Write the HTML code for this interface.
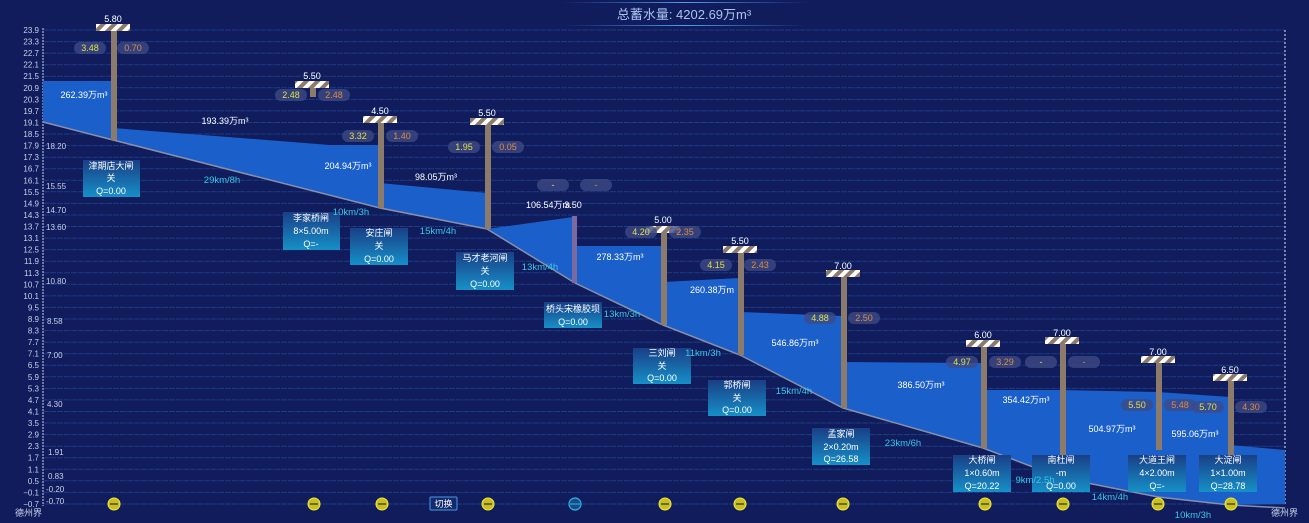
<!DOCTYPE html>
<html><head><meta charset="utf-8"><style>
html,body{margin:0;padding:0;background:#101c5c;}
svg{display:block;font-family:"Liberation Sans","Noto Sans CJK SC",sans-serif;}
.t{font-size:9px;fill:#c8d2e8;}
.yl{font-size:8px;fill:#c8d2e8;text-anchor:end;}
.yr{font-size:8px;fill:#c8d2e8;}
.v{font-size:9px;fill:#ffffff;text-anchor:middle;}
.d{font-size:9.5px;fill:#35c8e8;text-anchor:middle;}
.g{font-size:9px;fill:#ffffff;text-anchor:middle;}
.py{font-size:9px;fill:#e0e040;text-anchor:middle;}
.po{font-size:9px;fill:#e08a3a;text-anchor:middle;}
.b{font-size:9px;fill:#ffffff;text-anchor:middle;}
</style></head><body>
<svg width="1309" height="523" viewBox="0 0 1309 523" xmlns="http://www.w3.org/2000/svg">
<defs>
<pattern id="h" width="8" height="8" patternUnits="userSpaceOnUse" patternTransform="rotate(45)">
<rect width="8" height="8" fill="#ffffff"/><rect width="4" height="8" fill="#8c7a6b"/>
</pattern>
<linearGradient id="bx" x1="0" y1="0" x2="0" y2="1"><stop offset="0" stop-color="#1a3f86"/><stop offset="1" stop-color="#1690c8"/></linearGradient>
<linearGradient id="tl" x1="0" y1="0" x2="1" y2="0"><stop offset="0" stop-color="#3a8ae0" stop-opacity="0"/><stop offset="0.5" stop-color="#4aa0f0"/><stop offset="1" stop-color="#3a8ae0" stop-opacity="0"/></linearGradient>
</defs>
<rect width="1309" height="523" fill="#101c5c"/>
<!-- title -->
<rect x="560" y="2" width="250" height="1" fill="url(#tl)"/>
<rect x="560" y="25" width="250" height="1" fill="url(#tl)"/>
<text x="684" y="19" font-size="13" fill="#a8c4ee" text-anchor="middle">总蓄水量: 4202.69万m³</text>
<!-- grid -->
<g stroke="#1d3d86" stroke-width="1" stroke-dasharray="6,1">
<line x1="43" x2="1285" y1="30" y2="30"/><line x1="43" x2="1285" y1="41.6" y2="41.6"/><line x1="43" x2="1285" y1="53.1" y2="53.1"/><line x1="43" x2="1285" y1="64.7" y2="64.7"/><line x1="43" x2="1285" y1="76.2" y2="76.2"/><line x1="43" x2="1285" y1="87.8" y2="87.8"/><line x1="43" x2="1285" y1="99.4" y2="99.4"/><line x1="43" x2="1285" y1="110.9" y2="110.9"/><line x1="43" x2="1285" y1="122.5" y2="122.5"/><line x1="43" x2="1285" y1="134" y2="134"/><line x1="43" x2="1285" y1="145.6" y2="145.6"/><line x1="43" x2="1285" y1="157.2" y2="157.2"/><line x1="43" x2="1285" y1="168.7" y2="168.7"/><line x1="43" x2="1285" y1="180.3" y2="180.3"/><line x1="43" x2="1285" y1="191.8" y2="191.8"/><line x1="43" x2="1285" y1="203.4" y2="203.4"/><line x1="43" x2="1285" y1="215" y2="215"/><line x1="43" x2="1285" y1="226.5" y2="226.5"/><line x1="43" x2="1285" y1="238.1" y2="238.1"/><line x1="43" x2="1285" y1="249.6" y2="249.6"/><line x1="43" x2="1285" y1="261.2" y2="261.2"/><line x1="43" x2="1285" y1="272.8" y2="272.8"/><line x1="43" x2="1285" y1="284.3" y2="284.3"/><line x1="43" x2="1285" y1="295.9" y2="295.9"/><line x1="43" x2="1285" y1="307.4" y2="307.4"/><line x1="43" x2="1285" y1="319" y2="319"/><line x1="43" x2="1285" y1="330.6" y2="330.6"/><line x1="43" x2="1285" y1="342.1" y2="342.1"/><line x1="43" x2="1285" y1="353.7" y2="353.7"/><line x1="43" x2="1285" y1="365.2" y2="365.2"/><line x1="43" x2="1285" y1="376.8" y2="376.8"/><line x1="43" x2="1285" y1="388.4" y2="388.4"/><line x1="43" x2="1285" y1="399.9" y2="399.9"/><line x1="43" x2="1285" y1="411.5" y2="411.5"/><line x1="43" x2="1285" y1="423" y2="423"/><line x1="43" x2="1285" y1="434.6" y2="434.6"/><line x1="43" x2="1285" y1="446.2" y2="446.2"/><line x1="43" x2="1285" y1="457.7" y2="457.7"/><line x1="43" x2="1285" y1="469.3" y2="469.3"/><line x1="43" x2="1285" y1="480.8" y2="480.8"/><line x1="43" x2="1285" y1="492.4" y2="492.4"/><line x1="43" x2="1285" y1="504" y2="504"/>
</g>
<line x1="43" x2="43" y1="28" y2="506" stroke="#c8d2e8" stroke-dasharray="2,1"/>
<line x1="1285" x2="1285" y1="30" y2="506" stroke="#e0e8f8" stroke-dasharray="2,2"/>
<!-- y labels -->
<g class="yl">
<text x="39" y="33">23.9</text><text x="39" y="44.6">23.3</text><text x="39" y="56.1">22.7</text><text x="39" y="67.7">22.1</text><text x="39" y="79.2">21.5</text><text x="39" y="90.8">20.9</text><text x="39" y="102.4">20.3</text><text x="39" y="113.9">19.7</text><text x="39" y="125.5">19.1</text><text x="39" y="137">18.5</text><text x="39" y="148.6">17.9</text><text x="39" y="160.2">17.3</text><text x="39" y="171.7">16.7</text><text x="39" y="183.3">16.1</text><text x="39" y="194.8">15.5</text><text x="39" y="206.4">14.9</text><text x="39" y="218">14.3</text><text x="39" y="229.5">13.7</text><text x="39" y="241.1">13.1</text><text x="39" y="252.6">12.5</text><text x="39" y="264.2">11.9</text><text x="39" y="275.8">11.3</text><text x="39" y="287.3">10.7</text><text x="39" y="298.9">10.1</text><text x="39" y="310.4">9.5</text><text x="39" y="322">8.9</text><text x="39" y="333.6">8.3</text><text x="39" y="345.1">7.7</text><text x="39" y="356.7">7.1</text><text x="39" y="368.2">6.5</text><text x="39" y="379.8">5.9</text><text x="39" y="391.4">5.3</text><text x="39" y="402.9">4.7</text><text x="39" y="414.5">4.1</text><text x="39" y="426">3.5</text><text x="39" y="437.6">2.9</text><text x="39" y="449.2">2.3</text><text x="39" y="460.7">1.7</text><text x="39" y="472.3">1.1</text><text x="39" y="483.8">0.5</text><text x="39" y="495.4">−0.1</text><text x="39" y="507">−0.7</text>
</g>
<g class="yr">
<text x="46" y="149">18.20</text><text x="46" y="189">15.55</text><text x="46" y="213">14.70</text><text x="46" y="230">13.60</text><text x="46" y="284">10.80</text><text x="47" y="324">8.58</text><text x="47" y="358">7.00</text><text x="47" y="407">4.30</text><text x="48" y="455">1.91</text><text x="48" y="479">0.83</text><text x="46" y="492">-0.20</text><text x="46" y="504">-0.70</text>
</g>
<text x="15" y="516" class="t" font-size="8">德州界</text>
<text x="1271" y="516" class="t" font-size="8">德州界</text>
<!-- water -->
<g fill="#1b5fcb">
<polygon points="43,81 113,81 113,140 43,122"/>
<polygon points="113,128 330,145 380,145 380,208 113,140"/>
<polygon points="380,183 487,193 487,229 380,208"/>
<polygon points="487,229 573,217 575,283 487,229"/>
<polygon points="575,246 663,246 663,325 575,283"/>
<polygon points="663,282 740,278 740,355 663,325"/>
<polygon points="740,312 843,316 843,408 740,355"/>
<polygon points="843,362 983,363 983,448 843,408"/>
<polygon points="983,390 1062,390 1062,478 983,448"/>
<polygon points="1062,390 1158,392 1158,497 1062,478"/>
<polygon points="1158,392 1230,397 1230,505 1158,497"/>
<polygon points="1230,445 1285,450 1285,504 1230,505"/>
</g>
<polyline points="43,122 113,140 380,208 487,229 575,283 663,325 740,355 843,408 983,448 1062,478 1158,497 1230,505 1285,508" fill="none" stroke="#8a8fa8" stroke-width="1.5"/>
<!-- gates -->
<g fill="#8c7a6b">
<rect x="111" y="30" width="6" height="110"/>
<rect x="310" y="87" width="6" height="10"/>
<rect x="378" y="122" width="6" height="86"/>
<rect x="485" y="124" width="6" height="105"/>
<rect x="661" y="232" width="6" height="93"/>
<rect x="738" y="252" width="6" height="103"/>
<rect x="841" y="276" width="6" height="132"/>
<rect x="981" y="346" width="6" height="102"/>
<rect x="1060" y="343" width="6" height="135"/>
<rect x="1156" y="362" width="6" height="88"/>
<rect x="1228" y="380" width="6" height="82"/>
</g>
<rect x="572" y="216" width="5" height="67" fill="#7a6aa0"/>
<g fill="url(#h)">
<rect x="96" y="24" width="34" height="7"/>
<rect x="295" y="81" width="34" height="7"/>
<rect x="363" y="116" width="34" height="7"/>
<rect x="470" y="118" width="34" height="7"/>
<rect x="646" y="226" width="34" height="7"/>
<rect x="723" y="246" width="34" height="7"/>
<rect x="826" y="270" width="34" height="7"/>
<rect x="966" y="340" width="34" height="7"/>
<rect x="1045" y="337" width="34" height="7"/>
<rect x="1141" y="356" width="34" height="7"/>
<rect x="1213" y="374" width="34" height="7"/>
</g>
<g class="g">
<text x="113" y="22">5.80</text><text x="312" y="79">5.50</text><text x="380" y="114">4.50</text><text x="487" y="116">5.50</text><text x="573" y="208">3.50</text><text x="663" y="223">5.00</text><text x="740" y="244">5.50</text><text x="843" y="269">7.00</text><text x="983" y="338">6.00</text><text x="1062" y="336">7.00</text><text x="1158" y="355">7.00</text><text x="1230" y="373">6.50</text>
</g>
<!-- pills -->
<g fill="#3d4a85" fill-opacity="0.8">
<rect x="74" y="42" width="32" height="12" rx="6"/><rect x="117" y="42" width="32" height="12" rx="6"/>
<rect x="275" y="89" width="32" height="12" rx="6"/><rect x="318" y="89" width="32" height="12" rx="6"/>
<rect x="342" y="130" width="32" height="12" rx="6"/><rect x="386" y="130" width="32" height="12" rx="6"/>
<rect x="448" y="141" width="32" height="12" rx="6"/><rect x="492" y="141" width="32" height="12" rx="6"/>
<rect x="537" y="179" width="32" height="12" rx="6"/><rect x="580" y="179" width="32" height="12" rx="6"/>
<rect x="625" y="226" width="32" height="12" rx="6"/><rect x="669" y="226" width="32" height="12" rx="6"/>
<rect x="700" y="259" width="32" height="12" rx="6"/><rect x="744" y="259" width="32" height="12" rx="6"/>
<rect x="804" y="312" width="32" height="12" rx="6"/><rect x="848" y="312" width="32" height="12" rx="6"/>
<rect x="946" y="356" width="32" height="12" rx="6"/><rect x="989" y="356" width="32" height="12" rx="6"/><rect x="1025" y="356" width="32" height="12" rx="6"/><rect x="1068" y="356" width="32" height="12" rx="6"/>
<rect x="1121" y="399" width="32" height="12" rx="6"/><rect x="1164" y="399" width="32" height="12" rx="6"/><rect x="1192" y="401" width="32" height="12" rx="6"/><rect x="1235" y="401" width="32" height="12" rx="6"/>
</g>
<g class="py">
<text x="90" y="51">3.48</text><text x="291" y="98">2.48</text><text x="358" y="139">3.32</text><text x="464" y="150">1.95</text><text x="553" y="188">-</text><text x="641" y="235">4.20</text><text x="716" y="268">4.15</text><text x="820" y="321">4.88</text><text x="962" y="365">4.97</text><text x="1041" y="365">-</text><text x="1137" y="408">5.50</text><text x="1208" y="410">5.70</text>
</g>
<g class="po">
<text x="133" y="51">0.70</text><text x="334" y="98">2.48</text><text x="402" y="139">1.40</text><text x="508" y="150">0.05</text><text x="596" y="188">-</text><text x="685" y="235">2.35</text><text x="760" y="268">2.43</text><text x="864" y="321">2.50</text><text x="1005" y="365">3.29</text><text x="1084" y="365">-</text><text x="1180" y="408">5.48</text><text x="1251" y="410">4.30</text>
</g>
<!-- volumes -->
<g class="v">
<text x="84" y="98">262.39万m³</text><text x="225" y="124">193.39万m³</text><text x="348" y="169">204.94万m³</text><text x="436" y="180">98.05万m³</text><text x="548" y="208">106.54万m</text><text x="620" y="260">278.33万m³</text><text x="712" y="293">260.38万m</text><text x="795" y="346">546.86万m³</text><text x="921" y="388">386.50万m³</text><text x="1026" y="403">354.42万m³</text><text x="1112" y="432">504.97万m³</text><text x="1195" y="437">595.06万m³</text>
</g>
<!-- info boxes -->
<g fill="url(#bx)">
<rect x="83" y="160" width="57" height="37"/>
<rect x="283" y="212" width="57" height="38"/>
<rect x="350" y="228" width="58" height="37"/>
<rect x="456" y="252" width="58" height="38"/>
<rect x="544" y="302" width="58" height="26"/>
<rect x="633" y="348" width="58" height="36"/>
<rect x="708" y="380" width="58" height="36"/>
<rect x="812" y="428" width="58" height="37"/>
<rect x="953" y="455" width="58" height="37"/>
<rect x="1032" y="455" width="58" height="37"/>
<rect x="1128" y="455" width="58" height="37"/>
<rect x="1199" y="455" width="58" height="37"/>
</g>
<g class="b">
<text x="111" y="169">津期店大闸</text><text x="111" y="181">关</text><text x="111" y="194">Q=0.00</text>
<text x="311" y="221">李家桥闸</text><text x="311" y="234">8×5.00m</text><text x="311" y="247">Q=-</text>
<text x="379" y="236">安庄闸</text><text x="379" y="249">关</text><text x="379" y="262">Q=0.00</text>
<text x="485" y="261">马才老河闸</text><text x="485" y="274">关</text><text x="485" y="287">Q=0.00</text>
<text x="573" y="312">桥头宋橡胶坝</text><text x="573" y="325">Q=0.00</text>
<text x="662" y="356">三刘闸</text><text x="662" y="369">关</text><text x="662" y="381">Q=0.00</text>
<text x="737" y="388">郭桥闸</text><text x="737" y="401">关</text><text x="737" y="413">Q=0.00</text>
<text x="841" y="437">孟家闸</text><text x="841" y="450">2×0.20m</text><text x="841" y="462">Q=26.58</text>
<text x="982" y="463">大桥闸</text><text x="982" y="476">1×0.60m</text><text x="982" y="489">Q=20.22</text>
<text x="1061" y="463">南杜闸</text><text x="1061" y="476">-m</text><text x="1061" y="489">Q=0.00</text>
<text x="1157" y="463">大道王闸</text><text x="1157" y="476">4×2.00m</text><text x="1157" y="489">Q=-</text>
<text x="1228" y="463">大淀闸</text><text x="1228" y="476">1×1.00m</text><text x="1228" y="489">Q=28.78</text>
</g>
<!-- distances -->
<g class="d">
<text x="222" y="183">29km/8h</text><text x="351" y="215">10km/3h</text><text x="438" y="234">15km/4h</text><text x="540" y="270">13km/4h</text><text x="622" y="317">13km/3h</text><text x="703" y="356">11km/3h</text><text x="794" y="394">15km/4h</text><text x="903" y="446">23km/6h</text><text x="1035" y="483">9km/2.5h</text><text x="1110" y="500">14km/4h</text><text x="1193" y="518">10km/3h</text>
</g>
<!-- bottom icons -->
<g fill="#c8c020" stroke="#f0e840" stroke-width="1">
<circle cx="114" cy="504" r="6"/><circle cx="314" cy="504" r="6"/><circle cx="382" cy="504" r="6"/><circle cx="488" cy="504" r="6"/><circle cx="665" cy="504" r="6"/><circle cx="740" cy="504" r="6"/><circle cx="843" cy="504" r="6"/><circle cx="985" cy="504" r="6"/><circle cx="1063" cy="504" r="6"/><circle cx="1158" cy="504" r="6"/><circle cx="1231" cy="504" r="6"/>
</g>
<g stroke="#3a3010" stroke-width="1.2">
<line x1="110" x2="118" y1="504" y2="504"/><line x1="310" x2="318" y1="504" y2="504"/><line x1="378" x2="386" y1="504" y2="504"/><line x1="484" x2="492" y1="504" y2="504"/><line x1="661" x2="669" y1="504" y2="504"/><line x1="736" x2="744" y1="504" y2="504"/><line x1="839" x2="847" y1="504" y2="504"/><line x1="981" x2="989" y1="504" y2="504"/><line x1="1059" x2="1067" y1="504" y2="504"/><line x1="1154" x2="1162" y1="504" y2="504"/><line x1="1227" x2="1235" y1="504" y2="504"/>
</g>
<circle cx="575" cy="504" r="6" fill="#1a4a8a" stroke="#30b8e0" stroke-width="1.2"/>
<line x1="570" x2="580" y1="504" y2="504" stroke="#30b8e0"/>
<rect x="430" y="497" width="27" height="13" fill="#132a6e" stroke="#4a9ae0" rx="1"/>
<text x="443.5" y="507" class="b" font-size="9">切换</text>
</svg>
</body></html>
